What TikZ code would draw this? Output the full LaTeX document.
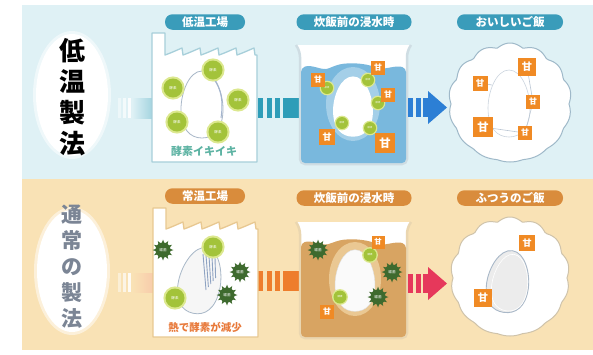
\documentclass[tikz,border=0pt]{standalone}
\usepackage{fontspec}
\newfontfamily\jp{Noto Sans CJK JP}
\definecolor{bgblue}{HTML}{DFF1F5}
\definecolor{bgbeige}{HTML}{F9E2B5}
\definecolor{pillblue}{HTML}{3A9CBA}
\definecolor{pillorange}{HTML}{D98C3C}
\definecolor{facblue}{HTML}{A7CFDA}
\definecolor{facbeige}{HTML}{E8C891}
\definecolor{enz}{HTML}{A3C33A}
\definecolor{enzhalo}{HTML}{DCE88F}
\definecolor{sweet}{HTML}{F08A24}
\definecolor{waterblue}{HTML}{79B8DD}
\definecolor{waterhalo}{HTML}{A4CFE8}
\definecolor{waterbrown}{HTML}{D8A462}
\definecolor{brownhalo}{HTML}{EAC893}
\definecolor{germcol}{HTML}{3E6A2E}
\definecolor{arrowblue}{HTML}{2C7FD5}
\definecolor{arrowred}{HTML}{E6385B}
\definecolor{barteal}{HTML}{2E9DB8}
\definecolor{barorange}{HTML}{EE7D2C}
\definecolor{grainline}{HTML}{A9B8C8}
\definecolor{vivid}{HTML}{5DB3A3}
\definecolor{heat}{HTML}{E8793A}
\definecolor{beakerline}{HTML}{CFDDE3}
\definecolor{beakerbeige}{HTML}{EAD6B0}
\definecolor{bowlblue}{HTML}{9FB9C9}
\definecolor{bowlbeige}{HTML}{CFC3AA}
\definecolor{titlegray}{HTML}{7B8595}
\definecolor{streak}{HTML}{8EA3C2}
\begin{document}
\begin{tikzpicture}[x=1pt,y=-1pt,
  pill/.style={rounded corners=7.5pt, minimum height=15.5pt, inner sep=0pt,
    text=white, font=\jp\bfseries\fontsize{11.5}{11.5}\selectfont},
  sweetbox/.style={fill=sweet, text=white, minimum size=16pt, inner sep=0pt,
    font=\jp\bfseries\fontsize{9}{9}\selectfont, scale=#1/16},
  tinytxt/.style={text=white, inner sep=0pt, font=\jp\fontsize{3.6}{3.6}\selectfont},
  pics/grain/.style={code={
    \path[#1] (0,-34) .. controls (13,-34) and (21,-12) .. (21,4)
      .. controls (21,24) and (12,33) .. (0,33)
      .. controls (-12,33) and (-21,24) .. (-21,4)
      .. controls (-21,-12) and (-13,-34) .. (0,-34) -- cycle;}},
  pics/enzyme/.style={code={
    \fill[enzhalo] (0,0) circle ({#1*1.22});
    \fill[enz] (0,0) circle (#1);
    \node[tinytxt, scale={#1/9.5}] {酵素};}},
  pics/germ/.style={code={
    \foreach \a in {0,30,...,330}{\fill[germcol] (\a-10:7) -- (\a:10.5) -- (\a+10:7) -- cycle;}
    \fill[germcol] (0,0) circle (7.6);
    \node[tinytxt] {雑菌};}}
]
\useasboundingbox (0,0) rectangle (593,354);
\fill[white] (0,0) rectangle (593,354);

% panels
\fill[bgblue] (22,5) rectangle (593,179);
\fill[bgbeige] (22,179) rectangle (593,350);

% method titles on soft white ovals
\fill[white, opacity=0.5] (72,95) ellipse [x radius=39pt, y radius=64pt];
\fill[white] (72,95) ellipse [x radius=36pt, y radius=61pt];
\node[font=\jp\bfseries\fontsize{26}{31}\selectfont, align=center] (lowtemp) at (72,97) {低\\温\\製\\法};
\fill[white, opacity=0.5] (72,271) ellipse [x radius=38pt, y radius=64pt];
\fill[white] (72,271) ellipse [x radius=35pt, y radius=61pt];
\node[text=titlegray, font=\jp\bfseries\fontsize{21}{26}\selectfont, align=center] (normal) at (72,267) {通\\常\\の\\製\\法};

% fading bars into the factories
\foreach \x/\o in {118/0.45,123/0.65,128/0.85}{
  \fill[white, opacity=\o] (\x,98) rectangle ++(3,20);
  \fill[white, opacity=\o] (\x,273) rectangle ++(3,19);}
\shade[left color=bgblue, right color=barteal!45] (132,98) rectangle (153,118);
\shade[left color=bgbeige, right color=barorange!40] (132,273) rectangle (154,292);

% bars factory -> beaker
\foreach \a/\b in {258/263,267/272,275/280,283/299}{
  \fill[barteal] (\a,98) rectangle (\b,118);
  \fill[barorange] (\a,271) rectangle (\b,291);}

% ---------- low-temperature factory ----------
\filldraw[fill=white, draw=facblue, line width=1.3pt, line join=round]
  (152,162) -- (152,33) -- (165,33) -- (165,55)
  \foreach \s in {165,183,201,219,237}{ .. controls (\s+6,53) and (\s+12,50) .. (\s+17,48) -- (\s+18,55)}
  -- (257,55) -- (257,162) -- cycle;
\pic at (202,105) {grain={draw=grainline, line width=0.8pt}};
\draw[streak!80, line width=1pt] (209,74) .. controls (220,84) and (224,98) .. (221,118);
\foreach \p in {(213,70),(173,88),(238,100),(177,122),(218,132)}
  \pic at \p {enzyme=9.5};
\node[text=vivid, font=\jp\bfseries\fontsize{11}{11}\selectfont] (lively) at (204,151) {酵素イキイキ};

% ---------- normal factory ----------
\filldraw[fill=white, draw=facbeige, line width=1.3pt, line join=round]
  (153,337) -- (153,208) -- (166,208) -- (166,229)
  \foreach \s in {166,184,202,220,238}{ .. controls (\s+6,227) and (\s+12,224) .. (\s+17,222) -- (\s+18,229)}
  -- (258,229) -- (258,337) -- cycle;
\pic[rotate=-12] at (200,281) {grain={fill=gray!7, draw=grainline, line width=0.8pt}};
\foreach \x in {0,3,6,9,12}
  \draw[streak, line width=0.9pt] (203+\x,254+\x*0.3) -- (206+\x*0.8,290-\x);
\pic at (213,247) {enzyme=9.5};
\pic at (175,298) {enzyme=9.5};
\pic at (163,250) {germ};
\pic at (240,272) {germ};
\pic at (227,295) {germ};
\node[text=heat, font=\jp\bfseries\fontsize{10.5}{10.5}\selectfont] (heatloss) at (205,327) {熱で酵素が減少};

% ---------- soaking beaker, low temperature ----------
\filldraw[fill=white, draw=beakerline, line width=2.5pt, rounded corners=5pt]
  (296,45) -- (300,52) -- (300,164) -- (407,164) -- (407,52) -- (411,45);
\begin{scope}
  \clip[rounded corners=4pt] (301,68) .. controls (312,64) and (322,71) .. (332,67)
    .. controls (345,62) and (362,63) .. (375,67) .. controls (385,70) and (395,65) .. (406,68)
    -- (406,163) -- (301,163) -- cycle;
  \fill[waterblue] (296,60) rectangle (410,165);
  \fill[waterhalo] (353,104) ellipse [x radius=27pt, y radius=37pt];
\end{scope}
\pic[xscale=0.95, yscale=0.9] at (353,107) {grain={fill=white}};
\foreach \p in {(327,88),(368,80),(378,103),(342,123),(370,128)}
  \pic at \p {enzyme=6};
\node[sweetbox=14] at (318,80) {甘};
\node[sweetbox=14] at (378,68) {甘};
\node[sweetbox=14] at (388,95) {甘};
\node[sweetbox=16] at (327,137) {甘};
\node[sweetbox=20] at (385,143) {甘};

% ---------- soaking beaker, normal ----------
\filldraw[fill=white, draw=beakerbeige, line width=2.5pt, rounded corners=5pt]
  (296,222) -- (300,229) -- (300,338) -- (407,338) -- (407,229) -- (411,222);
\begin{scope}
  \clip[rounded corners=4pt] (301,243) .. controls (312,240) and (322,246) .. (332,243)
    .. controls (345,238) and (362,239) .. (375,243) .. controls (385,246) and (395,241) .. (406,244)
    -- (406,337) -- (301,337) -- cycle;
  \fill[waterbrown] (296,235) rectangle (410,340);
  \fill[brownhalo] (355,279) ellipse [x radius=26pt, y radius=37pt];
\end{scope}
\pic[xscale=0.95, yscale=0.92] at (355,281) {grain={fill=gray!4, draw=gray!25}};
\pic at (370,255) {enzyme=6.5};
\pic at (340,297) {enzyme=6.5};
\pic at (318,250) {germ};
\pic at (392,272) {germ};
\pic at (378,297) {germ};
\node[sweetbox=13] at (378,242) {甘};
\node[sweetbox=14] at (327,312) {甘};

% ---------- arrows beaker -> rice ----------
\foreach \a/\b in {408/413,416/421,423/428}{
  \fill[arrowblue] (\a,98) rectangle (\b,117);
  \fill[arrowred] (\a,274) rectangle (\b,293);}
\fill[arrowblue] (428,91) -- (447,107.5) -- (428,124) -- cycle;
\fill[arrowred] (428,267) -- (447,283.5) -- (428,300) -- cycle;

% ---------- tasty rice ----------
\filldraw[fill=white, draw=bowlblue, line width=1pt]
  plot[domain=0:357.5, samples=144]
  ({510+(59+(2.5-1.5*sin(\x))*abs(sin(7*\x)))*cos(\x)}, {104+(57+(2.5-1.5*sin(\x))*abs(sin(7*\x)))*sin(\x)}) -- cycle;
\pic at (509,104) {grain={draw=grainline!60, line width=0.6pt}};
\draw[grainline!80, line width=0.6pt] (480,83) -- (492,85);
\draw[grainline!80, line width=0.6pt] (527,67) -- (533,102) -- (525,133) -- (483,127);
\node[sweetbox=15] (s1) at (480,83) {甘};
\node[sweetbox=18] (s2) at (527,67) {甘};
\node[sweetbox=14] (s3) at (533,102) {甘};
\node[sweetbox=20] (s4) at (483,127) {甘};
\node[sweetbox=14] (s5) at (525,133) {甘};

% ---------- ordinary rice ----------
\filldraw[fill=white, draw=bowlbeige, line width=1pt]
  plot[domain=0:357.5, samples=144]
  ({510+(57+(2.5-1.5*sin(\x))*abs(sin(7*\x)))*cos(\x)}, {278+(57+(2.5-1.5*sin(\x))*abs(sin(7*\x)))*sin(\x)}) -- cycle;
\pic[rotate=-8, yscale=0.93] at (508,282) {grain={fill=gray!15, draw=grainline, line width=0.9pt}};
\pic[rotate=-8, scale=0.85] at (510,283) {grain={draw=white, line width=0.6pt}};
\node[sweetbox=16] (t1) at (527,243) {甘};
\node[sweetbox=18] (t2) at (483,298) {甘};

% ---------- stage labels ----------
\node[pill, fill=pillblue, minimum width=80pt] (lbl1) at (205,22) {低温工場};
\node[pill, fill=pillblue, minimum width=115pt] (lbl2) at (354,22) {炊飯前の浸水時};
\node[pill, fill=pillblue, minimum width=106pt] (lbl3) at (510,22) {おいしいご飯};
\node[pill, fill=pillorange, minimum width=80pt] (lbl4) at (205,196) {常温工場};
\node[pill, fill=pillorange, minimum width=115pt] (lbl5) at (354,198) {炊飯前の浸水時};
\node[pill, fill=pillorange, minimum width=106pt] (lbl6) at (510,198) {ふつうのご飯};
\end{tikzpicture}
\end{document}
